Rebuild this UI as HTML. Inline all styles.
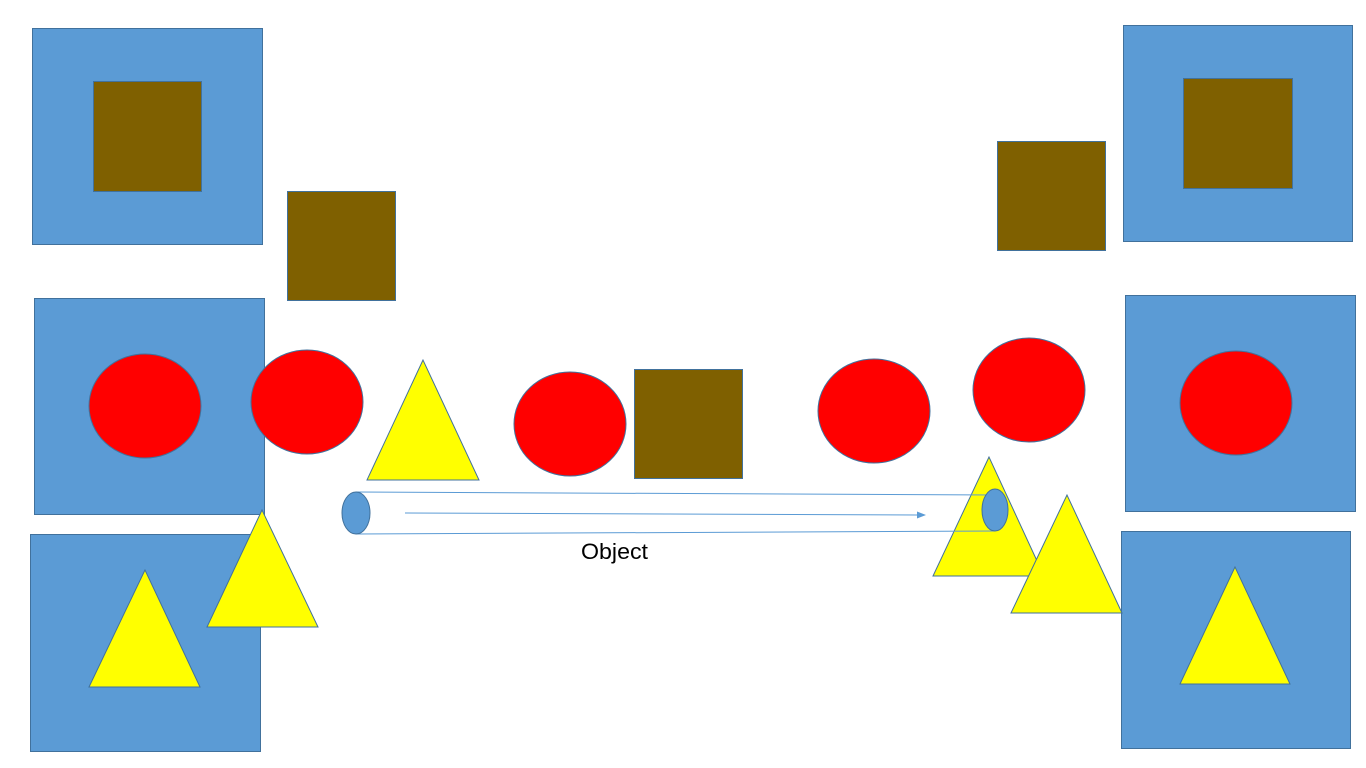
<!DOCTYPE html>
<html><head><meta charset="utf-8"><style>
html,body{margin:0;padding:0;background:#fff;width:1366px;height:768px;overflow:hidden}
svg{display:block}
</style></head><body>
<svg width="1366" height="768" viewBox="0 0 1366 768">
<g stroke="#41719C" stroke-width="1" fill="#5B9BD5">
<rect x="32.5" y="28.5" width="230" height="216"/>
<rect x="34.5" y="298.5" width="230" height="216"/>
<rect x="30.5" y="534.5" width="230" height="217"/>
<rect x="1123.5" y="25.5" width="229" height="216"/>
<rect x="1125.5" y="295.5" width="230" height="216"/>
<rect x="1121.5" y="531.5" width="229" height="217"/>
</g>
<g stroke="#41719C" stroke-width="1" fill="#7F6000">
<rect x="93.5" y="81.5" width="108" height="110"/>
<rect x="287.5" y="191.5" width="108" height="109"/>
<rect x="634.5" y="369.5" width="108" height="109"/>
<rect x="997.5" y="141.5" width="108" height="109"/>
<rect x="1183.5" y="78.5" width="109" height="110"/>
</g>
<g stroke="#41719C" stroke-width="1" fill="#FF0000">
<ellipse cx="145" cy="406" rx="56" ry="52"/>
<ellipse cx="307" cy="402" rx="56" ry="52"/>
<ellipse cx="570" cy="424" rx="56" ry="52"/>
<ellipse cx="874" cy="411" rx="56" ry="52"/>
<ellipse cx="1029" cy="390" rx="56" ry="52"/>
<ellipse cx="1236" cy="403" rx="56" ry="52"/>
</g>
<g stroke="#41719C" stroke-width="1" fill="#FFFF00">
<polygon points="423,360 367,480 479,480"/>
<polygon points="262,510 207,627 318,627"/>
<polygon points="145,570 89,687 200,687"/>
<polygon points="989,457 933,576 1044,576"/>
<polygon points="1067,495 1011,613 1122,613"/>
<polygon points="1235,567 1180,684 1290,684"/>
</g>
<g stroke="#5B9BD5" stroke-width="1">
<line x1="356" y1="492" x2="995" y2="495"/>
<line x1="356" y1="534" x2="995" y2="531"/>
<ellipse cx="356" cy="513" rx="14" ry="21" fill="#5B9BD5" stroke="#41719C"/>
<ellipse cx="995" cy="510" rx="13" ry="21" fill="#5B9BD5" stroke="#41719C"/>
</g>
<g>
<line x1="405" y1="513" x2="918" y2="515" stroke="#5B9BD5" stroke-width="1"/>
<polygon points="926,515 917,511.5 917,518.5" fill="#5B9BD5"/>
</g>
<text x="581" y="559" font-family="Liberation Sans, sans-serif" font-size="22" textLength="67" lengthAdjust="spacingAndGlyphs" fill="#000">Object</text>
</svg>
</body></html>
